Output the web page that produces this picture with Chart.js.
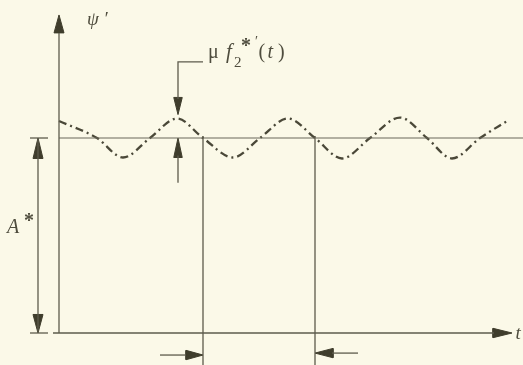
<!DOCTYPE html>
<html><head><meta charset="utf-8">
<script src="https://cdn.jsdelivr.net/npm/chart.js@4"></script>
<style>html,body{margin:0;padding:0;background:#fbf9e8;}canvas{display:block;}</style>
</head><body>
<canvas id="c" width="523" height="365"></canvas>
<script>
// Data units: t (time axis), psi (ψ', with A* = 1)
const waveT   = [0, 0.76, 1.28, 1.82, 2.36, 2.88, 3.48, 4.02, 4.58, 5.12, 5.66, 6.22, 6.82, 7.36, 7.86, 8.42, 8.98];
const wavePsi = [1.087, 1.0, 0.90, 1.0, 1.10, 1.0, 0.90, 1.0, 1.10, 1.0, 0.895, 1.0, 1.105, 1.0, 0.895, 1.0, 1.09];
const aStar = 1.0;            // level A*
const crossT = [2.88, 5.12];  // vertical marker lines (wave crossings)
const markT = 2.38;           // μ f2*'(t) amplitude marker
const markTop = 1.39;
const markPeak = 1.12;
const markLow = 0.77;
const dimT = -0.42;           // A* dimension line
const tickT = [-0.58, -0.22];
const axisT = [-0.12, 9.06];  // t axis extent (to arrow tip)
const axisPsi = [0, 1.631];   // psi axis extent (to arrow tip)
const refT = [0, 9.3];        // A* reference line extent
const vertLow = -0.17;
const arrowR = [2.02, 2.88, -0.113]; // right-pointing arrow: from, tip, level
const arrowL = [5.98, 5.12, -0.103]; // left-pointing arrow: from, tip, level

const LINE = '#5d5b4c', DARK = '#3f3d2c', WAVE = '#4a4838';
const pt = (x, y) => ({x, y});
function seg(pts, color, w, dash) {
  return {data: pts, showLine: true, pointRadius: 0, borderColor: color || LINE,
          borderWidth: w || 1.3, borderDash: dash || [], fill: false, tension: 0};
}
// arrowhead: tip point, direction ('u','d','l','r'), length & half-width in data units
function head(tx, ty, dir, len, hw) {
  let p;
  if (dir === 'u') p = [pt(tx, ty), pt(tx - hw, ty - len), pt(tx + hw, ty - len)];
  if (dir === 'd') p = [pt(tx, ty), pt(tx - hw, ty + len), pt(tx + hw, ty + len)];
  if (dir === 'r') p = [pt(tx, ty), pt(tx - len, ty + hw), pt(tx - len, ty - hw)];
  if (dir === 'l') p = [pt(tx, ty), pt(tx + len, ty + hw), pt(tx + len, ty - hw)];
  p.push(p[0]);
  return {data: p, showLine: true, pointRadius: 0, borderColor: DARK, borderWidth: 1,
          backgroundColor: DARK, fill: 'shape', tension: 0};
}

const VL = 0.092, VW = 0.1;   // vertical arrowhead size
const HL = 0.34, HW = 0.024;  // horizontal arrowhead size

const datasets = [
  // axes
  seg([pt(0, axisPsi[0]), pt(0, axisPsi[1] - VL)]),
  head(0, axisPsi[1], 'u', VL, VW),
  seg([pt(axisT[0], 0), pt(axisT[1] - 0.36, 0)]),
  head(axisT[1], 0, 'r', 0.38, HW),
  // A* reference level
  seg([pt(refT[0], aStar), pt(refT[1], aStar)], '#6a685a', 1.2),
  // wave
  {data: waveT.map((t, i) => pt(t, wavePsi[i])), showLine: true, pointRadius: 0,
   borderColor: WAVE, borderWidth: 2.3, borderDash: [8, 4, 2, 4], cubicInterpolationMode: 'monotone', fill: false},
  // A* dimension
  seg([pt(dimT, 0), pt(dimT, aStar)]),
  seg([pt(tickT[0], aStar), pt(tickT[1], aStar)]),
  seg([pt(tickT[0], 0), pt(tickT[1], 0)]),
  head(dimT, aStar, 'u', 0.105, VW),
  head(dimT, 0, 'd', 0.095, VW),
  // vertical lines
  seg([pt(crossT[0], aStar + 0.01), pt(crossT[0], vertLow)]),
  seg([pt(crossT[1], aStar + 0.01), pt(crossT[1], vertLow)]),
  // bottom arrows
  seg([pt(arrowR[0], arrowR[2]), pt(arrowR[1] - HL, arrowR[2])]),
  head(arrowR[1], arrowR[2], 'r', HL, HW),
  seg([pt(arrowL[0], arrowL[2]), pt(arrowL[1] + HL, arrowL[2])]),
  head(arrowL[1], arrowL[2], 'l', 0.36, HW),
  // μ f2*' marker
  seg([pt(crossT[0], markTop), pt(markT, markTop), pt(markT, markPeak + 0.08)]),
  head(markT, markPeak, 'd', 0.088, 0.085),
  seg([pt(markT, aStar - 0.09), pt(markT, markLow)]),
  head(markT, aStar, 'u', 0.1, 0.085),
];

// text labels in data units
const SERIF = '"Liberation Serif", "DejaVu Serif", serif';
const labels = [
  {text: 'ψ \u2032', t: 0.56, psi: 1.58, font: 'italic 19px ' + SERIF},
  {text: 'μ', t: 2.98, psi: 1.41, font: '20px ' + SERIF},
  {text: 'f', t: 3.34, psi: 1.41, font: 'italic 21px ' + SERIF},
  {text: '2', t: 3.5, psi: 1.366, font: '15px ' + SERIF},
  {text: '*', t: 3.64, psi: 1.44, font: 'bold 20px ' + SERIF},
  {text: '\u2032', t: 3.92, psi: 1.47, font: '14px ' + SERIF},
  {text: '(', t: 3.99, psi: 1.41, font: '20px ' + SERIF},
  {text: 't', t: 4.17, psi: 1.41, font: 'italic 20px ' + SERIF},
  {text: ')', t: 4.38, psi: 1.41, font: '20px ' + SERIF},
  {text: 'A', t: -1.04, psi: 0.513, font: 'italic 20px ' + SERIF},
  {text: '*', t: -0.7, psi: 0.545, font: 'bold 20px ' + SERIF},
  {text: 't', t: 9.13, psi: -0.03, font: 'italic 19px ' + SERIF},
];

const bgPlugin = {
  id: 'bg',
  beforeDraw(chart) {
    const c = chart.ctx; c.save(); c.fillStyle = '#fbf9e8';
    c.fillRect(0, 0, chart.width, chart.height); c.restore();
  }
};
const textPlugin = {
  id: 'txt',
  afterDatasetsDraw(chart) {
    const c = chart.ctx, xs = chart.scales.x, ys = chart.scales.y;
    c.save(); c.fillStyle = '#4f4d3e'; c.textBaseline = 'alphabetic'; c.textAlign = 'left';
    for (const l of labels) {
      c.font = l.font;
      c.fillText(l.text, xs.getPixelForValue(l.t), ys.getPixelForValue(l.psi));
    }
    c.restore();
  }
};

new Chart(document.getElementById('c'), {
  type: 'scatter',
  data: {datasets},
  options: {
    responsive: false, animation: false, devicePixelRatio: 1,
    layout: {padding: 0},
    plugins: {legend: {display: false}, tooltip: {enabled: false}},
    scales: {
      x: {type: 'linear', min: -1.18, max: 9.28, display: false},
      y: {type: 'linear', min: -0.1641, max: 1.7077, display: false}
    },
    datasets: {scatter: {clip: false}}
  },
  plugins: [bgPlugin, textPlugin]
});
</script>
</body></html>
